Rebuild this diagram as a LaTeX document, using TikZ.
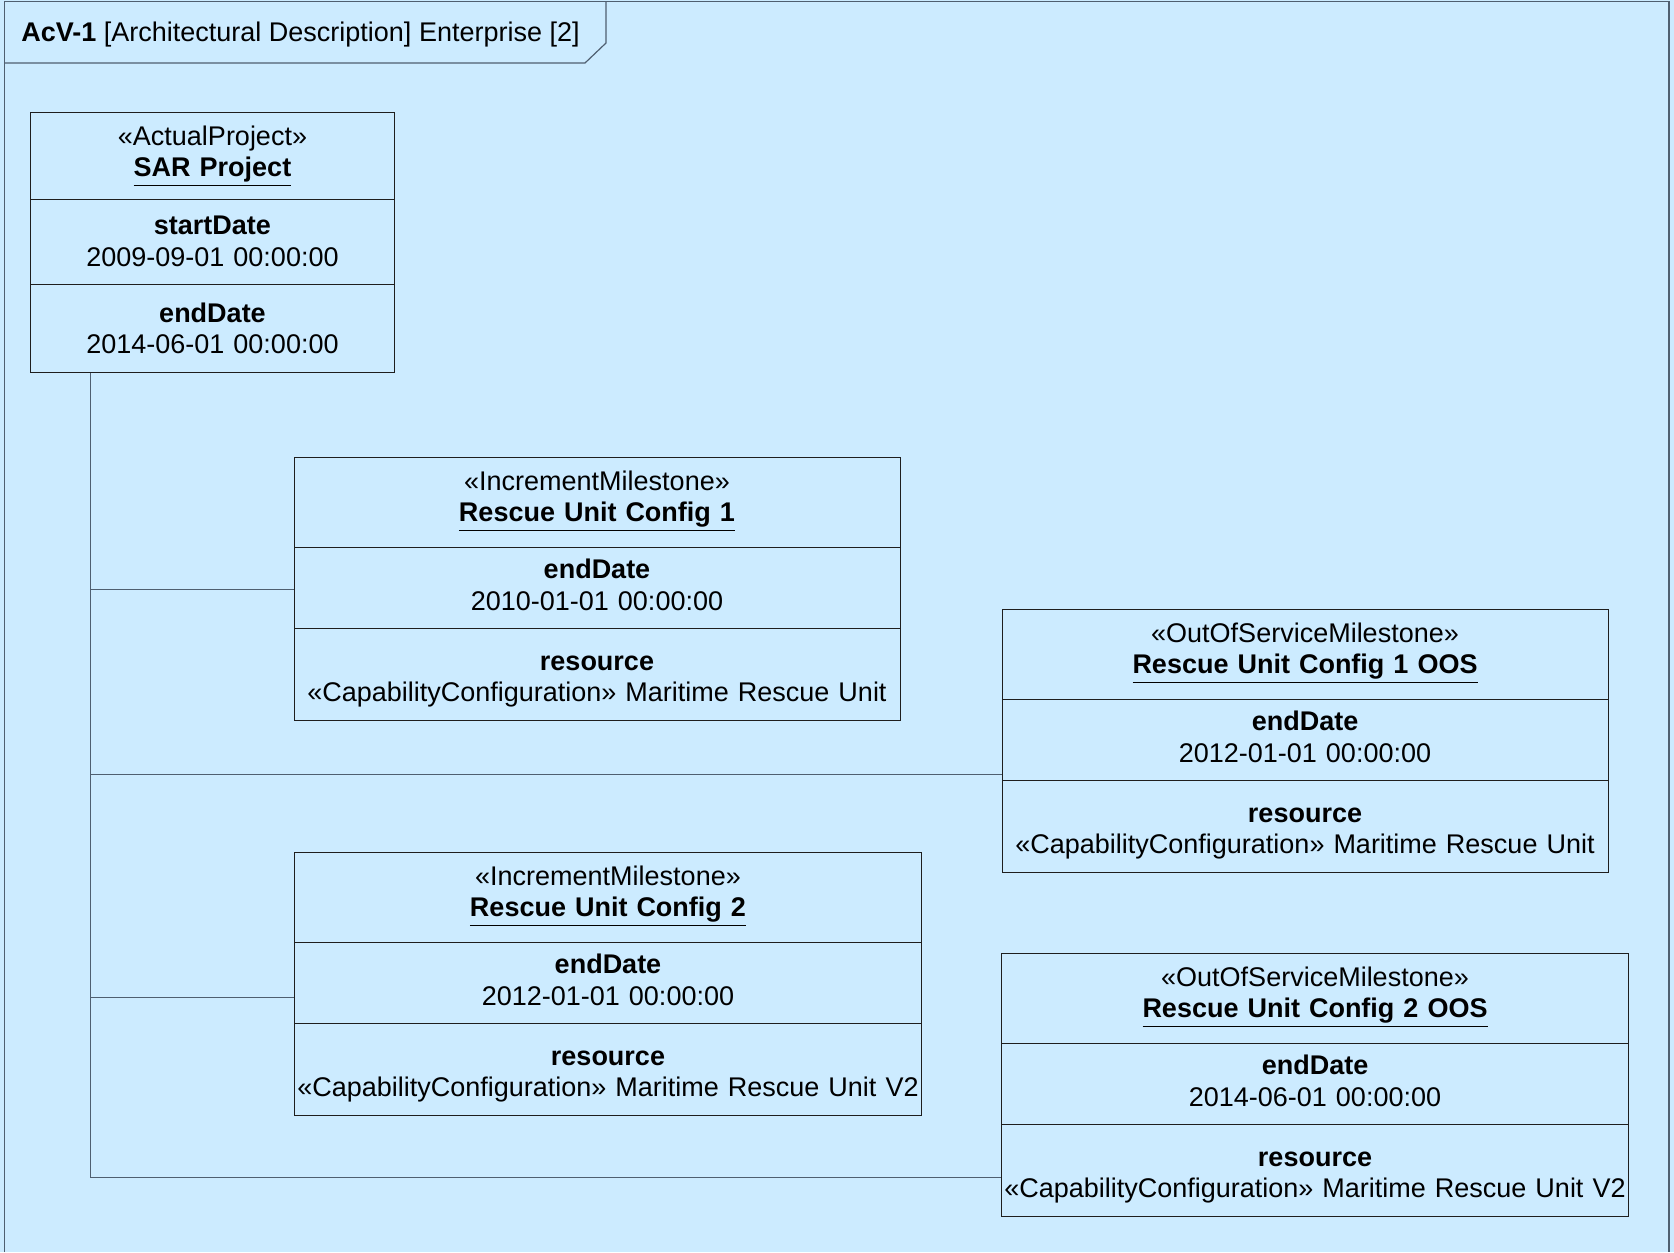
\documentclass[tikz,border=0pt]{standalone}
\usepackage{fontspec}
\setmainfont{Liberation Sans}
\usetikzlibrary{shapes.multipart,calc}

\definecolor{Sky}{HTML}{CCEBFF}
\definecolor{Ink}{HTML}{1E1E1E}
\definecolor{Rim}{HTML}{4F5F70}
\tikzstyle{Element} = [draw=Ink,
                       line width=0.5pt,
                       rectangle split,
                       rectangle split parts=3,
                       anchor=north west,
                       align=center,
                       inner xsep=0pt,
                       inner ysep=4.5pt,
                       font=\fontsize{13.5}{15.75}\selectfont]
\tikzstyle{Link} = [draw=Rim, line width=0.6pt]

% header and attribute compartments
\newcommand{\stereo}[3][8pt]{\rule{0pt}{11.5pt}«#2»\\ \underline{\textbf{#3}}\rule[-#1]{0pt}{0pt}}
\newcommand{\attr}[3][0pt]{\rule{0pt}{\dimexpr 11pt+#1\relax}\textbf{#2}\\ #3\strut}

\begin{document}
\begin{tikzpicture}[x=0.5pt, y=-0.5pt]

	\fill[Sky] (0,0) rectangle (1674,1252);
	\useasboundingbox (0,0) rectangle (1674,1252);

	% Diagram frame
	\draw[Rim, line width=0.8pt] (4.5,1252) -- (4.5,1.5) -- (1669,1.5) -- (1669,1252);
	\draw[Rim, line width=0.6pt] (4.5,63) -- (585,63) -- (606,43) -- (606,1.5);
	\node(title) at (21,42) [anchor=base west, inner sep=0pt, font=\fontsize{13.5}{15.75}\selectfont]{\textbf{AcV-1} [Architectural Description] Enterprise [2]};

	% Project and milestones
	\node(sar) at (30,112) [Element, text width=182pt]{\stereo[6.5pt]{ActualProject}{SAR Project}
		\nodepart{two}\attr[2pt]{startDate}{2009-09-01 00:00:00}
		\nodepart{three}\attr[3pt]{endDate}{2014-06-01 00:00:00}};
	\node(cfg1) at (293.5,457) [Element, text width=303pt]{\stereo{IncrementMilestone}{Rescue Unit Config 1}
		\nodepart{two}\attr{endDate}{2010-01-01 00:00:00}
		\nodepart{three}\attr[5pt]{resource}{«CapabilityConfiguration» Maritime Rescue Unit}};
	\node(oos1) at (1001.5,609) [Element, text width=303pt]{\stereo{OutOfServiceMilestone}{Rescue Unit Config 1 OOS}
		\nodepart{two}\attr{endDate}{2012-01-01 00:00:00}
		\nodepart{three}\attr[5pt]{resource}{«CapabilityConfiguration» Maritime Rescue Unit}};
	\node(cfg2) at (294,852) [Element, text width=313.5pt]{\stereo{IncrementMilestone}{Rescue Unit Config 2}
		\nodepart{two}\attr{endDate}{2012-01-01 00:00:00}
		\nodepart{three}\attr[5pt]{resource}{«CapabilityConfiguration» Maritime Rescue Unit V2}};
	\node(oos2) at (1001,953) [Element, text width=313.5pt]{\stereo{OutOfServiceMilestone}{Rescue Unit Config 2 OOS}
		\nodepart{two}\attr{endDate}{2014-06-01 00:00:00}
		\nodepart{three}\attr[5pt]{resource}{«CapabilityConfiguration» Maritime Rescue Unit V2}};

	% Lines
	\coordinate(spine) at ($(sar.south west)+(60.7,0)$);
	\draw[Link] (spine) |- (cfg1.west);
	\draw[Link] (spine) |- ([yshift=-16.75pt]oos1.west);
	\draw[Link] (spine) |- ([yshift=-6.75pt]cfg2.west);
	\draw[Link] (spine) |- ([yshift=-46pt]oos2.west);

\end{tikzpicture}
\end{document}
